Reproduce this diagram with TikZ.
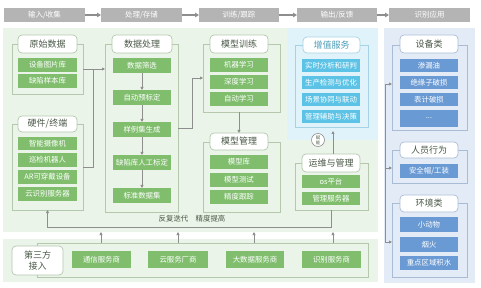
\documentclass[tikz,border=0pt]{standalone}
\usepackage{fontspec}
\setmainfont{Noto Sans CJK SC}
\usetikzlibrary{arrows.meta,calc}
\definecolor{hdrgray}{HTML}{B4B4B4}
\definecolor{greenbg}{HTML}{EBF4E8}
\definecolor{itemgreen}{HTML}{80BE6E}
\definecolor{framegreen}{HTML}{B3C8AD}
\definecolor{cyanbg}{HTML}{E1F3FA}
\definecolor{cyanitem}{HTML}{5CC3E6}
\definecolor{framecyan}{HTML}{A6D3E4}
\definecolor{bluebg}{HTML}{E3ECF6}
\definecolor{blueitem}{HTML}{6A9AD4}
\definecolor{frameblue}{HTML}{A9BCD6}
\definecolor{ttltext}{HTML}{4A5847}
\definecolor{arrgray}{HTML}{8E8E8E}
\newcommand{\mkbox}[7]{%
 \pgfmathsetmacro\mkw{#5-#3}\pgfmathsetmacro\mkh{#6-#4}%
 \pgfmathsetmacro\mkcx{(#3+#5)/2}\pgfmathsetmacro\mkcy{(#4+#6)/2}%
 \node[#2, minimum width=\mkw pt, minimum height=\mkh pt] (#1) at (\mkcx,\mkcy) {#7};}
\tikzset{
 base/.style={inner sep=0pt, outer sep=0pt, align=center},
 hdr/.style={base, fill=hdrgray, text=white, font=\fontsize{7.5}{8}\selectfont},
 panel/.style={base},
 frm/.style={base, draw=#1, line width=0.7pt},
 ttl/.style={base, draw=#1, fill=white, rounded corners=4pt, line width=0.7pt, text=ttltext, font=\fontsize{9}{10}\selectfont},
 itm/.style={base, fill=#1, text=white, font=\fontsize{7.4}{8}\selectfont},
 arr/.style={draw=arrgray, line width=0.8pt, -{Triangle[length=3pt,width=3pt]}},
 ln/.style={draw=arrgray, line width=0.8pt},
 harr/.style={draw=arrgray, line width=1.3pt, -{Triangle[length=4pt,width=4.5pt]}},
}
\begin{document}
\begin{tikzpicture}[x=1pt,y=-1pt]
\useasboundingbox (0,0) rectangle (481,288);
\fill[white] (0,0) rectangle (481,288);
% header
\mkbox{h1}{hdr}{4}{8}{85}{22}{输入/收集}
\mkbox{h2}{hdr}{101}{8}{182}{22}{处理/存储}
\mkbox{h3}{hdr}{199}{8}{279}{22}{训练/跟踪}
\mkbox{h4}{hdr}{297}{8}{377}{22}{输出/反馈}
\mkbox{h5}{hdr}{389}{8}{470}{22}{识别应用}
\draw[harr] (h1.east) -- (h2.west);
\draw[harr] (h2.east) -- (h3.west);
\draw[harr] (h3.east) -- (h4.west);
\draw[harr] (h4.east) -- (h5.west);
% panels
\mkbox{pg}{panel, fill=greenbg}{3}{28}{378}{232}{}
\mkbox{pc}{panel, fill=cyanbg}{287}{28}{378}{140}{}
\mkbox{pb}{panel, fill=bluebg}{384}{28}{475}{283}{}
\mkbox{pbot}{panel, fill=greenbg}{3}{239}{378}{282}{}
% 原始数据
\mkbox{f1}{frm=framegreen}{12}{44}{83}{94}{}
\mkbox{t1}{ttl=framegreen}{18}{35}{77}{53}{原始数据}
\mkbox{a11}{itm=itemgreen}{18}{58}{77}{72}{设备图片库}
\mkbox{a12}{itm=itemgreen}{18}{74}{77}{88}{缺陷样本库}
% 硬件/终端
\mkbox{f2}{frm=framegreen}{12}{124}{83}{210}{}
\mkbox{t2}{ttl=framegreen}{18}{116}{77}{132}{硬件/终端}
\mkbox{a21}{itm=itemgreen}{18}{137}{77}{150}{智能摄像机}
\mkbox{a22}{itm=itemgreen}{18}{153}{77}{167}{巡检机器人}
\mkbox{a23}{itm=itemgreen}{18}{170}{77}{184}{AR可穿戴设备}
\mkbox{a24}{itm=itemgreen}{18}{187}{77}{201}{云识别服务器}
% 数据处理
\mkbox{f3}{frm=framegreen}{105}{44}{178}{212}{}
\mkbox{t3}{ttl=framegreen}{112}{35}{172}{53}{数据处理}
\mkbox{a31}{itm=itemgreen}{113}{58}{171}{73}{数据筛选}
\mkbox{a32}{itm=itemgreen}{113}{90}{171}{105}{自动预标定}
\mkbox{a33}{itm=itemgreen}{113}{122}{171}{137}{样例集生成}
\mkbox{a34}{itm=itemgreen}{113}{155}{171}{170}{缺陷库人工标定}
\mkbox{a35}{itm=itemgreen}{113}{188}{171}{203}{标准数据集}
\draw[arr] (a31) -- (a32);
\draw[arr] (a32) -- (a33);
\draw[arr] (a33) -- (a34);
\draw[arr] (a34) -- (a35);
% 模型训练
\mkbox{f4}{frm=framegreen}{203}{44}{280}{112}{}
\mkbox{t4}{ttl=framegreen}{210}{35}{268}{53}{模型训练}
\mkbox{a41}{itm=itemgreen}{210}{58}{268}{72}{机器学习}
\mkbox{a42}{itm=itemgreen}{210}{75}{268}{89}{深度学习}
\mkbox{a43}{itm=itemgreen}{210}{92}{268}{106}{自动学习}
% 模型管理
\mkbox{f5}{frm=framegreen}{203}{142}{280}{212}{}
\mkbox{t5}{ttl=framegreen}{210}{133}{268}{150}{模型管理}
\mkbox{a51}{itm=itemgreen}{210}{155}{268}{169}{模型库}
\mkbox{a52}{itm=itemgreen}{210}{173}{268}{187}{模型测试}
\mkbox{a53}{itm=itemgreen}{210}{190}{268}{204}{精度跟踪}
% 增值服务
\mkbox{f6}{frm=framecyan}{295}{45}{368}{127}{}
\mkbox{t6}{ttl=framecyan, text=cyanitem!80!black}{303}{37}{360}{53}{增值服务}
\mkbox{a61}{itm=cyanitem}{302}{59}{360}{72}{实时分析和研判}
\mkbox{a62}{itm=cyanitem}{302}{76}{360}{89}{生产检测与优化}
\mkbox{a63}{itm=cyanitem}{302}{93}{360}{106}{场景协同与联动}
\mkbox{a64}{itm=cyanitem}{302}{110}{360}{123}{管理辅助与决策}
% 运维与管理
\mkbox{f7}{frm=framegreen}{295}{163}{368}{210}{}
\mkbox{t7}{ttl=framegreen}{302}{154}{360}{172}{运维与管理}
\mkbox{a71}{itm=itemgreen}{302}{175}{360}{188}{os平台}
\mkbox{a72}{itm=itemgreen}{302}{192}{360}{205}{管理服务器}
\node[base, circle, draw=arrgray, fill=white, line width=0.6pt, minimum size=13pt, text=ttltext, font=\fontsize{4.4}{4.8}\selectfont] (fn) at (318,140) {赋\\能};
\coordinate (up7) at (333,154);
\draw[arr] (up7) -- ($(up7 |- f6.south)+(0,4)$);
% 右侧
\mkbox{f8}{frm=frameblue}{392}{45}{467}{130}{}
\mkbox{t8}{ttl=frameblue}{400}{35}{458}{53}{设备类}
\mkbox{a81}{itm=blueitem}{400}{59}{458}{72}{渗漏油}
\mkbox{a82}{itm=blueitem}{400}{76}{458}{89}{绝缘子破损}
\mkbox{a83}{itm=blueitem}{400}{93}{458}{106}{表计破损}
\mkbox{a84}{itm=blueitem}{400}{110}{458}{127}{...}
\mkbox{f9}{frm=frameblue}{392}{150}{467}{183}{}
\mkbox{t9}{ttl=frameblue}{400}{142}{458}{158}{人员行为}
\mkbox{a91}{itm=blueitem}{400}{164}{458}{178}{安全帽/工装}
\mkbox{f10}{frm=frameblue}{392}{203}{467}{277}{}
\mkbox{t10}{ttl=frameblue}{400}{195}{458}{212}{环境类}
\mkbox{a101}{itm=blueitem}{400}{217}{458}{232}{小动物}
\mkbox{a102}{itm=blueitem}{400}{237}{458}{252}{烟火}
\mkbox{a103}{itm=blueitem}{400}{256}{458}{270}{重点区域积水}
\coordinate (r1) at (385,84);
\coordinate (r2) at (385,168);
\coordinate (r3) at (385,242);
\draw[ln] (r1) -- (r3);
\draw[arr] (r1) -- (r1 -| f8.west);
\draw[arr] (r2) -- (r2 -| f9.west);
\draw[arr] (r3) -- (r3 -| f10.west);
% 左侧连线
\coordinate (j1) at (93,69);
\draw[ln] (f2.east) -| (j1);
\draw[arr] (f1.east) -- (f1.east -| f3.west);
\draw[arr] (f3.east) -- ++(14,0) |- (f4.west);
\draw[arr] (t5.north |- f4.south) -- (t5.north);
% 反馈
\draw[arr] (f7.south) -- ++(0,17) -| (f2.south);
\node[base, text=ttltext, font=\fontsize{7.4}{8}\selectfont] (fb) at (192,219) {反复迭代\quad 精度提高};
% 底部
\mkbox{fbot}{frm=framegreen}{37}{243}{368}{277}{}
\mkbox{tb}{ttl=framegreen, font=\fontsize{9}{11}\selectfont}{12}{246}{63}{275}{第三方\\接入}
\mkbox{b1}{itm=itemgreen}{72}{251}{131}{268}{通信服务商}
\mkbox{b2}{itm=itemgreen}{148}{251}{208}{268}{云服务厂商}
\mkbox{b3}{itm=itemgreen}{226}{251}{284}{268}{大数据服务商}
\mkbox{b4}{itm=itemgreen}{302}{251}{361}{268}{识别服务商}
\coordinate (u1) at (101,243);
\coordinate (u2) at (178,243);
\coordinate (u3) at (254,243);
\coordinate (u4) at (333,243);
\draw[arr] (u1) -- (u1 |- pg.south);
\draw[arr] (u2) -- (u2 |- pg.south);
\draw[arr] (u3) -- (u3 |- pg.south);
\draw[arr] (u4) -- (u4 |- pg.south);
\end{tikzpicture}
\end{document}
